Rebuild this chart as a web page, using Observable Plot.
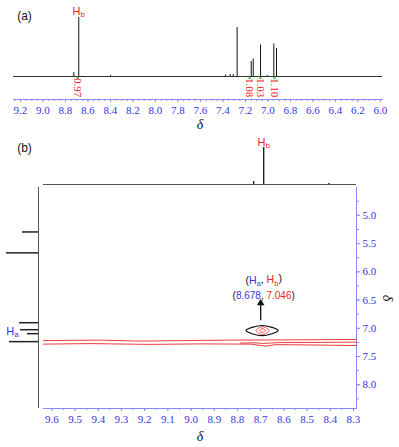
<!DOCTYPE html>
<html><head><meta charset="utf-8">
<script src="https://cdn.jsdelivr.net/npm/d3@7"></script>
<script src="https://cdn.jsdelivr.net/npm/@observablehq/plot@0.6"></script>
<style>
body{margin:0;background:#fff}
#c{position:relative;width:399px;height:447px;overflow:hidden;background:#fff}
#c svg{position:absolute;left:0;top:0}
</style>
</head><body><div id="c"></div>
<script>
// ---------- data ----------
// panel (a): 1D spectrum peaks (ppm, relative height)
const peaksA = [
  {ppm: 8.726, h: 4}, {ppm: 8.682, h: 59}, {ppm: 8.40, h: 1},
  {ppm: 7.378, h: 1.5}, {ppm: 7.336, h: 2}, {ppm: 7.309, h: 2},
  {ppm: 7.274, h: 49}, {ppm: 7.149, h: 15}, {ppm: 7.131, h: 17.5},
  {ppm: 7.066, h: 31.5}, {ppm: 7.007, h: 1}, {ppm: 6.948, h: 32.5}, {ppm: 6.924, h: 28}
];
const integralsA = [
  {ppm: 8.690, label: "0.97"}, {ppm: 7.162, label: "1.08"},
  {ppm: 7.066, label: "1.03"}, {ppm: 6.942, label: "1.10"}
];
const ticksA = [9.2, 9.0, 8.8, 8.6, 8.4, 8.2, 8.0, 7.8, 7.6, 7.4, 7.2, 7.0, 6.8, 6.6, 6.4, 6.2, 6.0];
const peakLabelA = [{ppm: 8.682, h: 65, label: "Hb"}];

// panel (b): projections
const peaksTop = [{ppm: 8.730, h: 3}, {ppm: 8.687, h: 37}, {ppm: 8.406, h: 1}];
const peakLabelTop = [{ppm: 8.687, h: 42, label: "Hb"}];
const peaksLeft = [
  {ppm: 5.294, h: 16}, {ppm: 5.664, h: 32}, {ppm: 6.901, h: 19},
  {ppm: 7.025, h: 18}, {ppm: 7.095, h: 11}, {ppm: 7.236, h: 29}
];
const peakLabelLeft = [{ppm: 7.05, h: 26, label: "Ha"}];
const ticksB = [9.6, 9.5, 9.4, 9.3, 9.2, 9.1, 9.0, 8.9, 8.8, 8.7, 8.6, 8.5, 8.4, 8.3];
const ticksRight = [5.0, 5.5, 6.0, 6.5, 7.0, 7.5, 8.0];

// panel (b): 2D contours (x ppm, y ppm)
const ridgeTop = [[9.636,7.218],[9.392,7.209],[9.219,7.227],[9.046,7.218],[8.830,7.209],[8.615,7.206],[8.442,7.201],[8.287,7.197]];
const ridgeMid = [[8.787,7.262],[8.723,7.257],[8.692,7.268],[8.615,7.253],[8.442,7.250],[8.287,7.245]];
const ridgeBottom = [[9.636,7.280],[9.435,7.271],[9.176,7.285],[8.960,7.276],[8.744,7.280],[8.679,7.315],[8.636,7.289],[8.442,7.297],[8.287,7.306]];
const crossOuter = [[8.720,7.040],[8.692,6.970],[8.664,7.040],[8.692,7.110]];
const crossInner = [[8.705,7.040],[8.692,7.005],[8.679,7.040],[8.692,7.075]];
const circleMark = [[8.763,7.040],[8.694,6.950],[8.625,7.040],[8.694,7.130]];
const arrowShaft = [{x: 8.700, y1: 6.866, y2: 6.58}];
const arrowHead = [{x: 8.700, y: 6.553}];
const annot = [
  {x: 8.687, y: 6.160, label: "(Ha, Hb)", size: 10.5},
  {x: 8.687, y: 6.420, label: "(8.678, 7.046)", size: 10}
];

// ---------- styles ----------
const RED = "#ee2424", BLUE = "#3434e6", LINEBLUE = "#8a8aff", INK = "#333";
const SERIF = "'Liberation Serif', 'DejaVu Serif', serif", SANS = "'Liberation Sans', Arial, sans-serif";
const fmt1 = d => d.toFixed(1);
const minorA = d3.range(9.25, 5.99, -0.05);
const minorB = d3.range(9.6, 8.28, -0.05);
const minorR = d3.range(4.75, 8.42, 0.25);

const c = document.getElementById("c");
const svgStyle = {background: "transparent", overflow: "visible", fontFamily: SERIF, fontSize: "11px"};
const yPPM = {domain: [8.42, 4.507], label: null};

// ---------- panel (a) ----------
const pa = Plot.plot({
  width: 399, height: 135, marginLeft: 13, marginRight: 17, marginTop: 0, marginBottom: 36,
  style: svgStyle,
  x: {domain: [9.262, 5.982], label: null},
  y: {domain: [0, 60], range: [76, 16], axis: null, label: null},
  marks: [
    Plot.frame({anchor: "bottom", stroke: LINEBLUE}),
    Plot.axisX({ticks: minorA, tickSize: 2, fill: "none", stroke: LINEBLUE, label: null}),
    Plot.axisX({ticks: ticksA, tickSize: 3, tickPadding: 4, tickFormat: fmt1, stroke: LINEBLUE, fill: BLUE,
      fontFamily: SERIF, fontSize: 11, label: null}),
    Plot.ruleY([0], {stroke: INK, strokeWidth: 1}),
    Plot.ruleX(peaksA, {x: "ppm", y1: 0, y2: "h", stroke: "#111", strokeWidth: 1}),
    Plot.dot(integralsA, {x: "ppm", y: -1.5, r: 1.3, fill: "#55c455", stroke: null}),
    Plot.text(integralsA, {x: "ppm", y: -11, text: "label", rotate: 90, fill: RED, fontFamily: SERIF, fontSize: 11}),
    Plot.text(peakLabelA, {x: "ppm", y: "h", text: "label", fill: RED, fontFamily: SANS, fontSize: 11}),
    Plot.text(["(a)"], {frameAnchor: "top-left", textAnchor: "middle", lineAnchor: "middle", dx: 11, dy: 16,
      fontFamily: SANS, fontSize: 12, fill: "#111"}),
    Plot.text(["δ"], {frameAnchor: "bottom", textAnchor: "middle", lineAnchor: "middle", dx: 2, dy: 25,
      fontFamily: SERIF, fontStyle: "italic", fontSize: 14, fill: "#111"})
  ]
});

// ---------- panel (b): top projection ----------
const pt = Plot.plot({
  width: 399, height: 447, marginLeft: 43, marginRight: 43, marginTop: 0, marginBottom: 0,
  style: svgStyle,
  x: {domain: [9.636, 8.287], axis: null, label: null},
  y: {domain: [0, 40], range: [184, 144], axis: null, label: null},
  marks: [
    Plot.ruleY([0], {stroke: "#555"}),
    Plot.ruleX(peaksTop, {x: "ppm", y1: 0, y2: "h", stroke: "#222", strokeWidth: 1.4}),
    Plot.text(peakLabelTop, {x: "ppm", y: "h", text: "label", fill: RED, fontFamily: SANS, fontSize: 11}),
    Plot.text(["(b)"], {frameAnchor: "top-left", textAnchor: "middle", lineAnchor: "middle", dx: -19, dy: 148,
      fontFamily: SANS, fontSize: 12, fill: "#111"})
  ]
});

// ---------- panel (b): left projection ----------
const pl = Plot.plot({
  width: 399, height: 447, marginLeft: 6, marginRight: 361, marginTop: 187, marginBottom: 39,
  style: svgStyle,
  x: {domain: [32, 0], axis: null, label: null},
  y: {...yPPM, axis: null},
  marks: [
    Plot.ruleX([0], {stroke: "#555"}),
    Plot.ruleY(peaksLeft, {y: "ppm", x1: 0, x2: "h", stroke: "#222", strokeWidth: 1.5}),
    Plot.text(peakLabelLeft, {x: "h", y: "ppm", text: "label", fill: BLUE, fontFamily: SANS, fontSize: 11})
  ]
});

// ---------- panel (b): 2D map ----------
const line = (pts, o) => Plot.line(pts, {x: d => d[0], y: d => d[1], ...o});
const pm = Plot.plot({
  width: 399, height: 447, marginLeft: 43, marginRight: 43, marginTop: 187, marginBottom: 39,
  style: svgStyle,
  x: {domain: [9.636, 8.287], label: null},
  y: yPPM,
  marks: [
    Plot.frame({anchor: "bottom", stroke: LINEBLUE}),
    Plot.frame({anchor: "right", stroke: LINEBLUE}),
    Plot.axisX({ticks: minorB, tickSize: 2, fill: "none", stroke: LINEBLUE, label: null}),
    Plot.axisX({ticks: ticksB, tickSize: 3, tickPadding: 4, tickFormat: fmt1, stroke: LINEBLUE, fill: BLUE,
      fontFamily: SERIF, fontSize: 11, label: null}),
    Plot.axisY({anchor: "right", ticks: minorR, tickSize: 2, fill: "none", stroke: LINEBLUE, label: null}),
    Plot.axisY({anchor: "right", ticks: ticksRight, tickSize: 3, tickPadding: 3, tickFormat: fmt1, stroke: LINEBLUE,
      fill: BLUE, fontFamily: SERIF, fontSize: 11, label: null}),
    line(ridgeTop, {stroke: RED, strokeWidth: 0.9}),
    line(ridgeMid, {stroke: RED, strokeWidth: 0.9}),
    line(ridgeBottom, {stroke: RED, strokeWidth: 0.9}),
    line(crossOuter, {stroke: RED, strokeWidth: 0.8, curve: "catmull-rom-closed"}),
    line(crossInner, {stroke: RED, strokeWidth: 0.8, curve: "catmull-rom-closed"}),
    line(circleMark, {stroke: "#111", strokeWidth: 1.2, curve: "catmull-rom-closed"}),
    Plot.ruleX(arrowShaft, {x: "x", y1: "y1", y2: "y2", stroke: "#111", strokeWidth: 1.3}),
    Plot.dot(arrowHead, {x: "x", y: "y", symbol: "triangle", r: 2.8, fill: "#111", stroke: null}),
    Plot.text(annot, {x: "x", y: "y", text: "label", fontSize: d => d.size, fontFamily: SANS, fill: "#111"}),
    Plot.text(["δ"], {frameAnchor: "bottom", textAnchor: "middle", lineAnchor: "middle", dy: 28,
      fontFamily: SERIF, fontStyle: "italic", fontSize: 14, fill: "#111"}),
    Plot.text(["δ"], {frameAnchor: "right", textAnchor: "middle", lineAnchor: "middle", dx: 31, rotate: 90,
      fontFamily: SERIF, fontStyle: "italic", fontSize: 14, fill: "#111"})
  ]
});

[pa, pt, pl, pm].forEach(s => c.appendChild(s));

// ---------- rich text (subscripts, two-colour labels) ----------
function rich(svg, key, parts) {
  d3.select(svg).selectAll("text").filter(function() { return this.textContent === key; }).each(function() {
    const t = d3.select(this);
    t.text("");
    let sub = false;
    for (const p of parts) {
      const s = t.append("tspan").text(p.t);
      if (p.c) s.attr("fill", p.c);
      if (p.sub) { s.attr("font-size", "72%"); if (!sub) s.attr("dy", "0.3em"); sub = true; }
      else if (sub) { s.attr("dy", "-0.3em"); sub = false; }
    }
  });
}
[pa, pt].forEach(s => rich(s, "Hb", [{t: "H"}, {t: "b", sub: true}]));
rich(pl, "Ha", [{t: "H"}, {t: "a", sub: true}]);
rich(pm, "(Ha, Hb)", [{t: "("}, {t: "H", c: BLUE}, {t: "a", c: BLUE, sub: true}, {t: ", "},
  {t: "H", c: RED}, {t: "b", c: RED, sub: true}, {t: ")"}]);
rich(pm, "(8.678, 7.046)", [{t: "("}, {t: "8.678", c: BLUE}, {t: ", "}, {t: "7.046", c: RED}, {t: ")"}]);
</script></body></html>
